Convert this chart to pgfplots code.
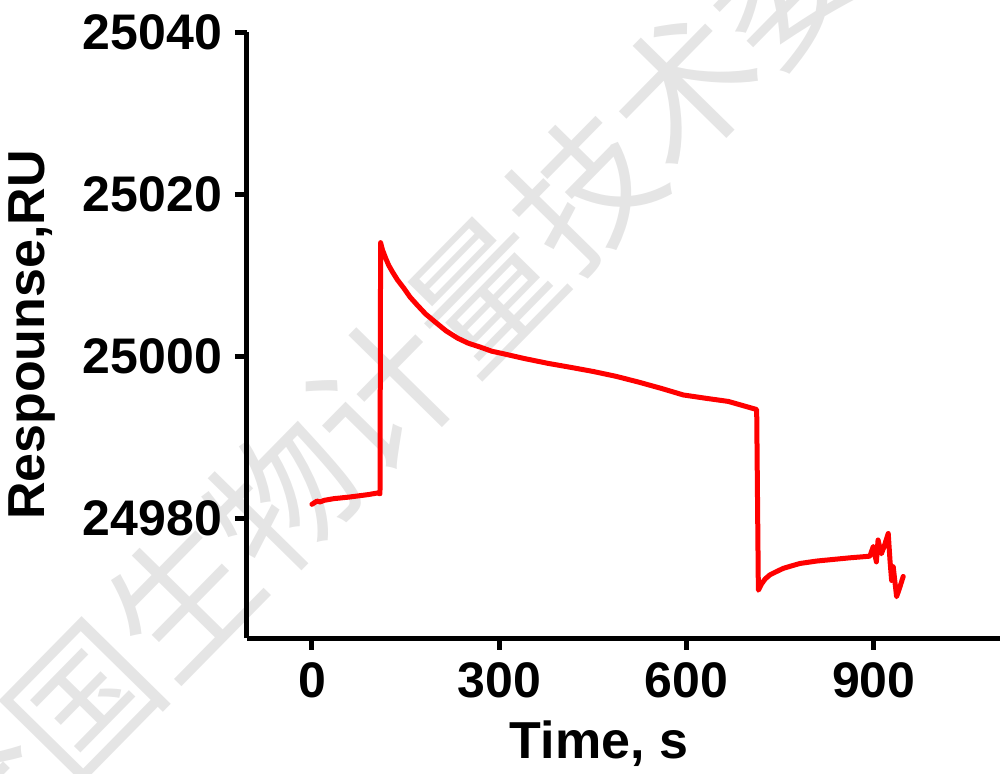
\documentclass[border=0pt]{standalone}
\usepackage{fontspec}
\setmainfont{Liberation Sans}
\newfontfamily\cjk{Noto Sans CJK SC}
\usepackage{pgfplots}
\pgfplotsset{compat=1.18}
\definecolor{wm}{RGB}{229,229,229}
\begin{document}
\begin{tikzpicture}
\path[use as bounding box] (-123.5pt,-67.5pt) rectangle (377pt,319pt);
\begin{scope}
\clip (-123.5pt,-67.5pt) rectangle (377pt,319pt);
\node[rotate=45.5, text=wm, inner sep=0pt, font=\cjk\fontsize{71.5pt}{74pt}\selectfont] at (118pt,173pt) {全国生物计量技术委员会};
\end{scope}
\begin{axis}[
  at={(0pt,0pt)}, anchor=south west,
  scale only axis,
  width=376.5pt, height=303pt,
  xmin=-104, xmax=1102,
  ymin=24965.2, ymax=25040,
  axis x line*=bottom, axis y line*=left,
  axis line style={line width=2.5pt, black, -},
  xtick={0,300,600,900},
  ytick={24980,25000,25020,25040},
  scaled y ticks=false, scaled x ticks=false,
  yticklabel={\pgfmathprintnumber[fixed,precision=0]{\tick}},
  tick align=outside,
  major tick length=6pt,
  tick style={line width=2.5pt, black},
  /pgf/number format/assume math mode=true,
  /pgf/number format/1000 sep={},
  ticklabel style={font=\fontsize{25pt}{30pt}\selectfont\bfseries},
  yticklabel style={xshift=-3pt},
  xticklabel style={yshift=-3pt},
  xlabel={Time, s},
  ylabel={Respounse,RU},
  label style={font=\fontsize{26pt}{31pt}\selectfont\bfseries},
  xlabel style={at={(axis description cs:0.4675,-0.175)}, anchor=center},
  ylabel style={at={(axis description cs:-0.286,0.5)}, anchor=center, rotate=0},
  clip=false,
]
\addplot[color=red, line width=2.5pt, line join=round, line cap=round] coordinates {
(0,24981.7) (4,24981.9) (8,24982.1) (13,24982.0) (20,24982.2) (35,24982.4)
(60,24982.6) (90,24982.9) (105,24983.1) (109,24983.0)
(110,25014.0) (113,25013.1) (118,25012.1) (123,25011.2) (128.9,25010.4) (137,25009.4) (147,25008.4) (157,25007.3) (168.6,25006.3)
(182,25005.2) (197.5,25004.2) (215,25003.1) (233.6,25002.2) (250,25001.6) (269.8,25001.1) (288,25000.6) (305.9,25000.3) (340,24999.7) (378.1,24999.1)
(415,24998.6) (450.4,24998.1) (487,24997.5) (522.6,24996.8) (560,24996.0) (594.8,24995.2) (630,24994.8) (667,24994.4) (712.3,24993.4)
(715,24971.1) (720.3,24971.9) (726,24972.5) (733.6,24973.0) (744,24973.4) (755,24973.8) (768,24974.1) (781.6,24974.4)
(808.4,24974.7) (835,24974.9) (861.7,24975.1) (893.7,24975.3)
(899,24976.5) (904,24974.6) (906.7,24977.3) (912,24975.6) (916,24976.4)
(923,24978.1) (925.8,24974.8) (928.4,24972.3) (931,24974.0) (936.4,24970.3)
(941.7,24971.5) (947,24972.8)
};
\end{axis}
\end{tikzpicture}
\end{document}
